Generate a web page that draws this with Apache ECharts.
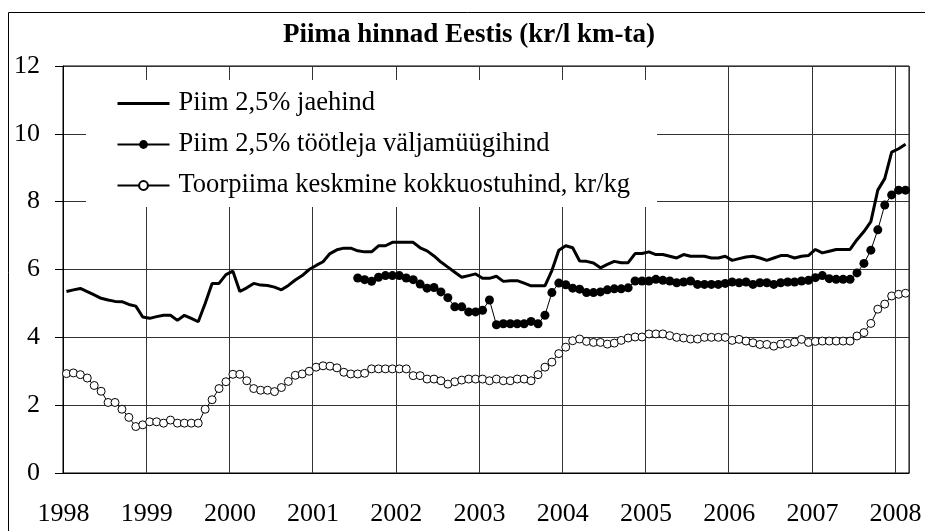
<!DOCTYPE html>
<html>
<head>
<meta charset="utf-8">
<script src="https://cdn.jsdelivr.net/npm/echarts@6.0.0/dist/echarts.min.js"></script>
<style>
  html, body { margin: 0; padding: 0; background: #fff; }
  #chart { width: 925px; height: 531px; }
</style>
</head>
<body>
<div id="chart"></div>
<script>
// Piima hinnad Eestis, kuuandmed 1998-01 ... 2008-02
const FONT = '"Liberation Serif", "Times New Roman", serif';

const years = ['1998', '1999', '2000', '2001', '2002', '2003', '2004', '2005', '2006', '2007', '2008'];
const monthCount = 122;
const months = [];
years.forEach((y) => {
  for (let m = 1; m <= 12; m++) {
    if (months.length < monthCount) months.push(y + '-' + String(m).padStart(2, '0'));
  }
});

const seriesNames = [
  'Piim 2,5% jaehind',
  'Piim 2,5% töötleja väljamüügihind',
  'Toorpiima keskmine kokkuostuhind, kr/kg',
];

// jaehind
const retail = [
  5.35, 5.40, 5.44, 5.35, 5.25, 5.15, 5.10, 5.06, 5.05, 4.97, 4.92, 4.60,
  4.56, 4.61, 4.65, 4.65, 4.50, 4.65, 4.56, 4.46, 5.00, 5.59, 5.59, 5.85,
  5.95, 5.35, 5.46, 5.59, 5.54, 5.53, 5.48, 5.40, 5.53, 5.69, 5.82, 6.00,
  6.12, 6.23, 6.47, 6.58, 6.63, 6.63, 6.55, 6.52, 6.52, 6.70, 6.70, 6.80,
  6.80, 6.80, 6.80, 6.64, 6.55, 6.40, 6.22, 6.07, 5.92, 5.77, 5.82, 5.87,
  5.74, 5.74, 5.80, 5.65, 5.67, 5.67, 5.60, 5.52, 5.52, 5.52, 5.97, 6.57,
  6.70, 6.64, 6.25, 6.24, 6.19, 6.05, 6.15, 6.24, 6.20, 6.20, 6.47, 6.47,
  6.52, 6.44, 6.44, 6.39, 6.34, 6.44, 6.39, 6.39, 6.39, 6.34, 6.34, 6.39,
  6.27, 6.32, 6.37, 6.39, 6.34, 6.27, 6.34, 6.41, 6.41, 6.34, 6.39, 6.41,
  6.59, 6.49, 6.54, 6.59, 6.59, 6.59, 6.88, 7.12, 7.41, 8.34, 8.68, 9.46,
  9.56, 9.69,
];

// töötleja väljamüügihind (andmed alates 2001-07)
const processor = [
  null, null, null, null, null, null, null, null, null, null, null, null,
  null, null, null, null, null, null, null, null, null, null, null, null,
  null, null, null, null, null, null, null, null, null, null, null, null,
  null, null, null, null, null, null, 5.75, 5.70, 5.65, 5.77, 5.82, 5.82,
  5.82, 5.75, 5.70, 5.57, 5.45, 5.47, 5.34, 5.17, 4.90, 4.90, 4.75, 4.75,
  4.80, 5.10, 4.37, 4.40, 4.40, 4.40, 4.40, 4.47, 4.40, 4.65, 5.32, 5.60,
  5.55, 5.45, 5.42, 5.32, 5.32, 5.34, 5.40, 5.43, 5.43, 5.46, 5.66, 5.66,
  5.66, 5.71, 5.68, 5.66, 5.61, 5.63, 5.66, 5.56, 5.56, 5.56, 5.56, 5.59,
  5.63, 5.61, 5.63, 5.56, 5.61, 5.61, 5.56, 5.61, 5.63, 5.63, 5.66, 5.68,
  5.76, 5.82, 5.73, 5.71, 5.71, 5.71, 5.90, 6.18, 6.57, 7.17, 7.90, 8.20,
  8.34, 8.34,
];

// toorpiima kokkuostuhind
const rawMilk = [
  2.93, 2.95, 2.90, 2.80, 2.58, 2.41, 2.08, 2.08, 1.88, 1.64, 1.37, 1.42,
  1.51, 1.51, 1.47, 1.56, 1.47, 1.47, 1.47, 1.47, 1.88, 2.16, 2.49, 2.69,
  2.91, 2.91, 2.72, 2.49, 2.44, 2.44, 2.40, 2.52, 2.70, 2.88, 2.92, 3.00,
  3.12, 3.16, 3.15, 3.10, 2.97, 2.92, 2.92, 2.94, 3.07, 3.07, 3.07, 3.07,
  3.07, 3.07, 2.87, 2.87, 2.77, 2.77, 2.72, 2.62, 2.69, 2.74, 2.77, 2.77,
  2.77, 2.72, 2.77, 2.72, 2.72, 2.77, 2.77, 2.72, 2.90, 3.12, 3.27, 3.52,
  3.71, 3.90, 3.95, 3.88, 3.85, 3.85, 3.80, 3.83, 3.91, 3.98, 4.01, 4.01,
  4.10, 4.10, 4.10, 4.05, 4.00, 3.98, 3.95, 3.95, 4.00, 4.00, 4.00, 4.00,
  3.91, 3.94, 3.89, 3.84, 3.79, 3.79, 3.74, 3.80, 3.82, 3.86, 3.94, 3.85,
  3.88, 3.89, 3.89, 3.89, 3.89, 3.89, 4.04, 4.14, 4.41, 4.83, 4.98, 5.22,
  5.27, 5.30,
];

const yTicks = [0, 2, 4, 6, 8, 10, 12];

const chart = echarts.init(document.getElementById('chart'), null, { renderer: 'canvas' });

chart.setOption({
  animation: false,
  backgroundColor: '#fff',
  textStyle: { fontFamily: FONT, color: '#000' },
  title: {
    text: 'Piima hinnad Eestis (kr/l km-ta)',
    left: 283,
    top: 22,
    padding: 0,
    textStyle: { fontFamily: FONT, fontSize: 27, fontWeight: 'bold', color: '#000' },
  },
  graphic: [{
    type: 'rect',
    silent: true,
    z: -10,
    shape: { x: 8.5, y: 12.5, width: 1000, height: 700 },
    style: { fill: 'none', stroke: '#000', lineWidth: 1 },
  }],
  legend: {
    orient: 'vertical',
    left: 86,
    top: 80,
    padding: [10, 27, 8, 30],
    backgroundColor: '#fff',
    itemWidth: 52,
    itemHeight: 11,
    itemGap: 14,
    selectedMode: false,
    data: [
      { name: seriesNames[0], itemStyle: { opacity: 0 }, lineStyle: { width: 3 } },
      { name: seriesNames[1] },
      { name: seriesNames[2] },
    ],
    textStyle: { fontFamily: FONT, fontSize: 26.5, color: '#000', lineHeight: 24, padding: [0, 0, 0, 4] },
  },
  grid: {
    left: 63, right: 16, top: 66, bottom: 58,
    show: true, borderColor: '#000', borderWidth: 1,
  },
  xAxis: {
    type: 'category',
    data: months,
    boundaryGap: true,
    axisLine: { lineStyle: { color: '#000', width: 1 } },
    axisTick: { interval: 11, length: 8, lineStyle: { color: '#000' } },
    axisLabel: {
      interval: 11,
      formatter: (v) => v.slice(0, 4),
      fontFamily: FONT, fontSize: 26, color: '#000',
      margin: 28,
      padding: [0, 6, 0, 0],
    },
    splitLine: { show: true, interval: 11, lineStyle: { color: '#333', width: 1 } },
  },
  yAxis: {
    type: 'value',
    min: yTicks[0],
    max: yTicks[yTicks.length - 1],
    interval: yTicks[1] - yTicks[0],
    axisLine: { show: true, lineStyle: { color: '#000', width: 1 } },
    axisTick: { show: true, length: 8, lineStyle: { color: '#000' } },
    axisLabel: { fontFamily: FONT, fontSize: 26, color: '#000', margin: 23 },
    splitLine: { show: true, lineStyle: { color: '#333', width: 1 } },
  },
  series: [
    {
      name: seriesNames[0],
      type: 'line',
      data: retail,
      symbol: 'none',
      lineStyle: { color: '#000', width: 3 },
      itemStyle: { color: '#000' },
      emphasis: { disabled: true },
      z: 3,
    },
    {
      name: seriesNames[1],
      type: 'line',
      data: processor,
      symbol: 'circle',
      symbolSize: 9,
      showAllSymbol: true,
      lineStyle: { color: '#000', width: 1 },
      itemStyle: { color: '#000' },
      emphasis: { disabled: true },
      z: 4,
    },
    {
      name: seriesNames[2],
      type: 'line',
      data: rawMilk,
      symbol: 'circle',
      symbolSize: 8,
      showAllSymbol: true,
      lineStyle: { color: '#000', width: 1 },
      itemStyle: { color: '#fff', borderColor: '#000', borderWidth: 1 },
      emphasis: { disabled: true },
      z: 5,
    },
  ],
});
</script>
</body>
</html>
